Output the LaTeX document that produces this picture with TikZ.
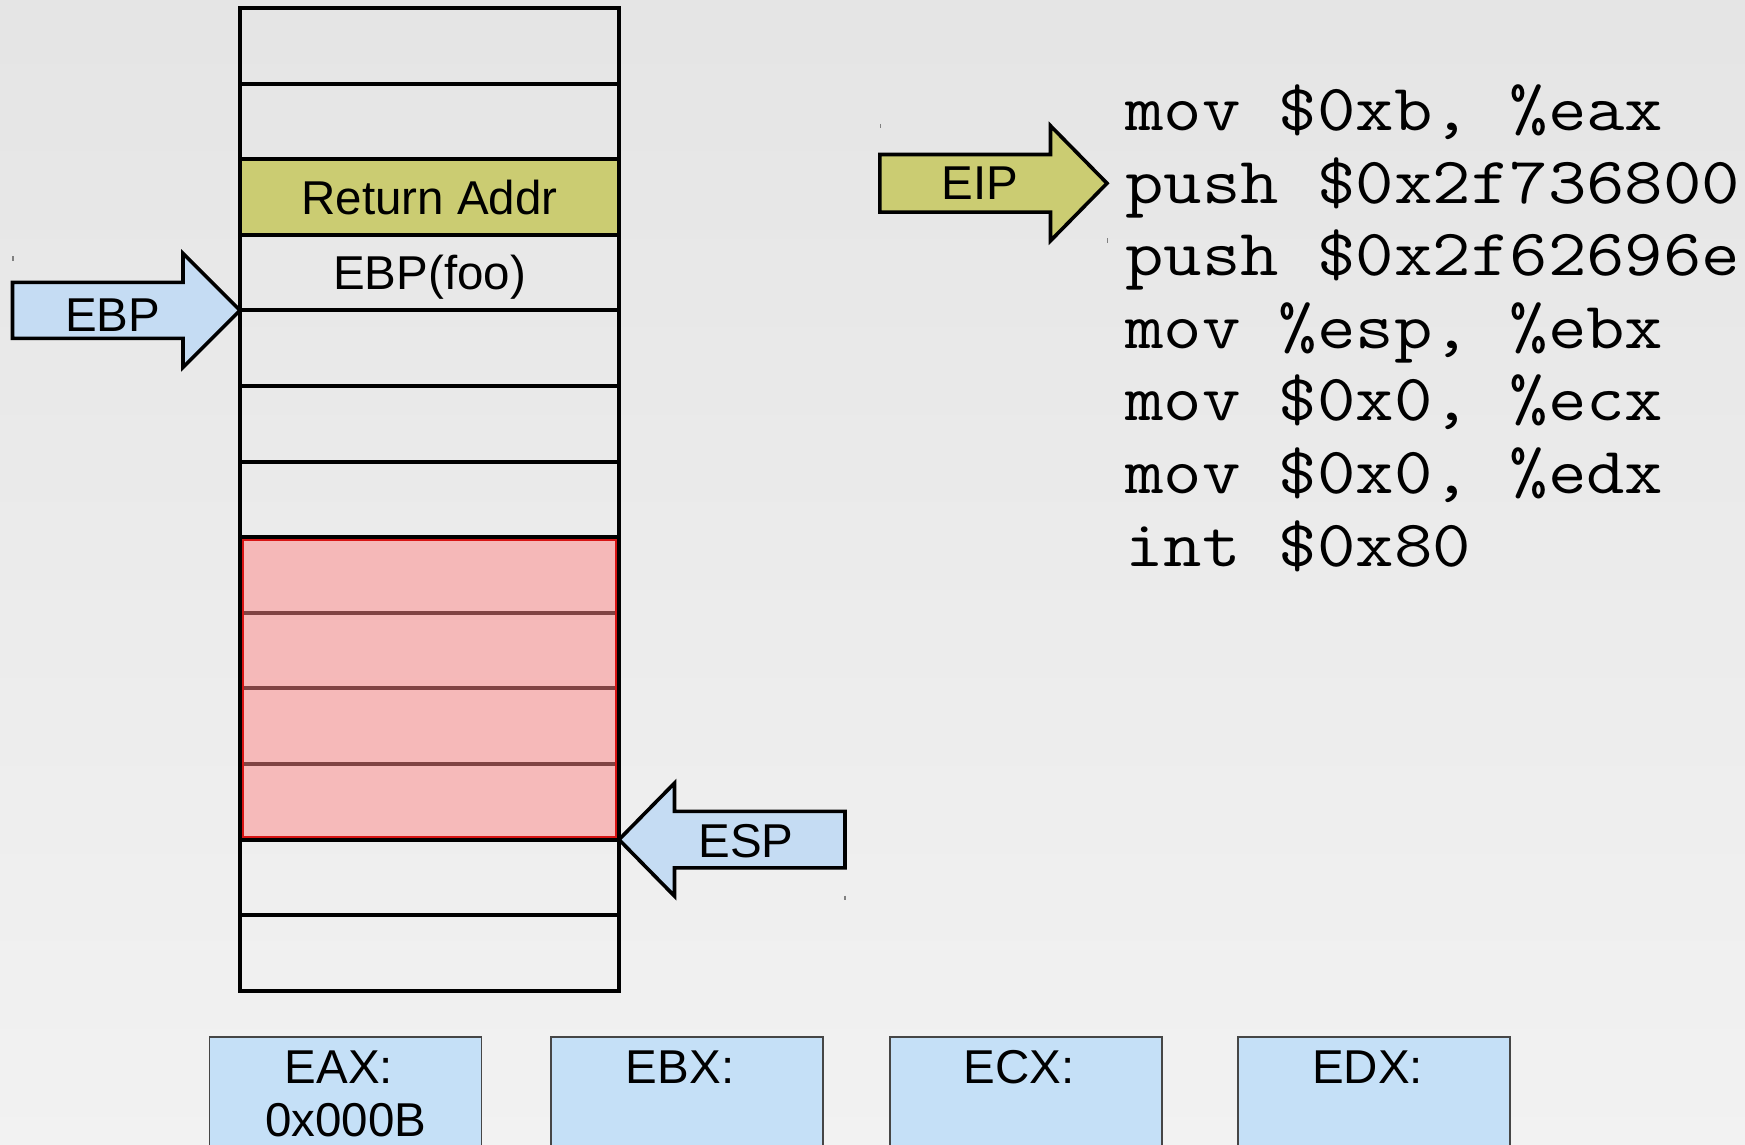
\documentclass[tikz,border=0pt]{standalone}
\usepackage{fontspec}
\setmainfont{Liberation Sans}
\usepackage{graphicx}

% slide background and fills
\definecolor{bgtop}{RGB}{234,234,234}
\definecolor{bgdark}{RGB}{228,228,228}
\definecolor{bglight}{RGB}{246,246,246}
\definecolor{bgbot}{RGB}{237,237,237}
\definecolor{addrolive}{RGB}{203,204,114}
\definecolor{ptrblue}{RGB}{197,220,243}
\definecolor{regblue}{RGB}{197,224,247}
\definecolor{usedfill}{RGB}{255,135,135}
\definecolor{usedline}{RGB}{215,20,20}
\definecolor{regline}{RGB}{70,70,70}

\pgfdeclareverticalshading{slidebg}{100bp}{color(0bp)=(bgbot); color(9bp)=(bglight); color(78bp)=(bgdark); color(100bp)=(bgtop)}

\newcommand\labelfont{\fontsize{47.5}{57}\selectfont}
\newcommand\asmfont{\ttfamily\fontsize{66}{72}\selectfont}
\newcommand\asm[1]{\scalebox{1.131}[1]{#1}}

\tikzset{
  cell/.style={draw, line width=3.9, minimum width=379, minimum height=75.6,
    inner sep=0, outer sep=0, text height=34pt, text depth=0pt, font=\labelfont},
  usedarea/.style={draw=usedline, line width=2, fill=usedfill, fill opacity=0.5},
  pointer/.style={draw=black, line width=3.6, line join=miter},
  lbl/.style={anchor=base, inner sep=0, font=\labelfont},
  code/.style={anchor=base west, inner sep=0, font=\asmfont},
  regbox/.style={draw=regline, line width=1.6, fill=regblue, minimum width=272,
    minimum height=130, inner sep=0, anchor=north},
  bboxmark/.style={draw=gray, line width=1.6}
}

\begin{document}
\begin{tikzpicture}[x=1pt,y=-1pt]
\useasboundingbox (0,0) rectangle (1745,1145);
\shade[shading=slidebg] (0,0) rectangle (1745,1145);

% the stack, thirteen slots
\foreach \k/\f/\t in {1/none/{},2/none/{},3/addrolive/{Return Addr},4/none/{EBP(foo)},
    5/none/{},6/none/{},7/none/{},8/none/{},9/none/{},10/none/{},11/none/{},12/none/{},13/none/{}}
  \node[cell, fill=\f] (s\k) at (429.5,{8+75.6*(\k-0.5)}) {\t};

% slots pushed by the shellcode
\draw[usedarea] ([shift={(2.8,2.8)}]s8.north west) rectangle ([shift={(-2.8,-2.8)}]s11.south east);

% EBP pointer
\draw[pointer, fill=ptrblue] (s4.south west) -- ++(-57,-57) -- ++(0,29) -- ++(-170.5,0)
  -- ++(0,56) -- ++(170.5,0) -- ++(0,29) -- cycle;
\node[lbl] (ebplbl) at (112.7,331) {EBP};

% ESP pointer
\draw[pointer, fill=ptrblue] (s11.south east) -- ++(55.5,-56.5) -- ++(0,28.2) -- ++(170.5,0)
  -- ++(0,56.6) -- ++(-170.5,0) -- ++(0,28.2) -- cycle;
\node[lbl] (esplbl) at (746,857.3) {ESP};

% instruction listing
\node[code] (c1) at (1125,130.7) {\asm{mov \$0xb, \%eax}};
\node[code] (c2) at (1125,203.25) {\asm{push \$0x2f736800}};
\node[code] (c3) at (1125,275.8) {\asm{push \$0x2f62696e}};
\node[code] (c4) at (1125,348.35) {\asm{mov \%esp, \%ebx}};
\node[code] (c5) at (1125,420.9) {\asm{mov \$0x0, \%ecx}};
\node[code] (c6) at (1125,493.45) {\asm{mov \$0x0, \%edx}};
\node[code] (c7) at (1125,566) {\asm{int \$0x80}};

% EIP pointer
\coordinate (eiptip) at (1107,183.3);
\draw[pointer, fill=addrolive] (eiptip) -- ++(-56.5,-57.5) -- ++(0,28.7) -- ++(-170.7,0)
  -- ++(0,57.6) -- ++(170.7,0) -- ++(0,28.7) -- cycle;
\node[lbl] (eiplbl) at (979.8,199.3) {EIP};

% corner marks of the pointer frames
\draw[bboxmark] (13,256) -- ++(0,4.5);
\draw[bboxmark] (880.5,124) -- ++(0,4.5);
\draw[bboxmark] (1107.3,238) -- ++(0,4.5);
\draw[bboxmark] (845,895.5) -- ++(0,4.5);

% registers
\node[regbox] (eax) at (345.6,1036) {};
\node[regbox] (ebx) at (686.7,1036) {};
\node[regbox] (ecx) at (1025.9,1036) {};
\node[regbox] (edx) at (1374.1,1036) {};
\node[lbl] (eaxl) at (339,1083.3) {EAX:};
\node[lbl] (eaxv) at (345.6,1136.7) {0x000B};
\node[lbl] (ebxl) at (680.1,1083.3) {EBX:};
\node[lbl] (ecxl) at (1019.3,1083.3) {ECX:};
\node[lbl] (edxl) at (1367.5,1083.3) {EDX:};
\end{tikzpicture}
\end{document}
